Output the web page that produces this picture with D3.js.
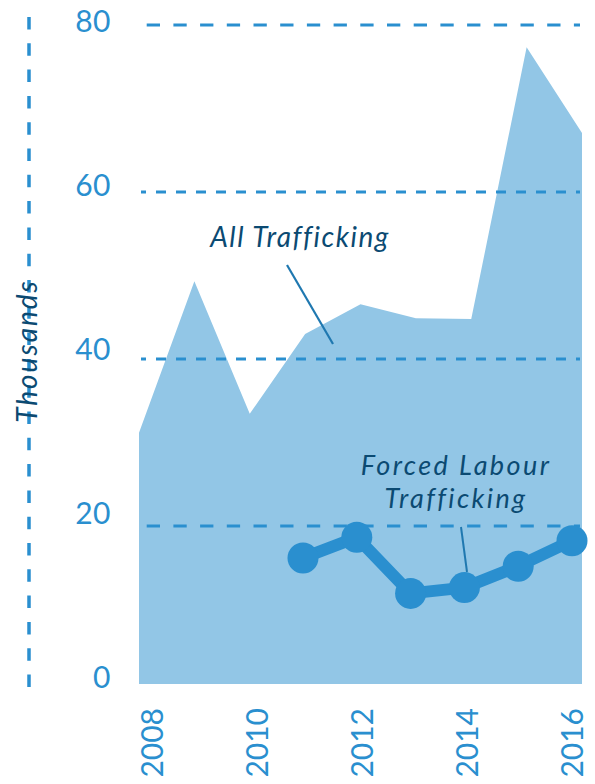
<!DOCTYPE html>
<html>
<head>
<meta charset="utf-8">
<script src="https://cdn.jsdelivr.net/npm/d3@7"></script>
<style>
  html, body { margin: 0; padding: 0; background: #ffffff; }
  svg { display: block; }
</style>
</head>
<body>
<svg id="chart" width="595" height="784"></svg>
<script>
// ---- data ----
const years = [2008, 2009, 2010, 2011, 2012, 2013, 2014, 2015, 2016];
const allTrafficking = [30.5, 48.9, 32.8, 42.5, 46.1, 44.4, 44.3, 77.3, 66.9];
const forcedYears = [2011, 2012, 2013, 2014, 2015, 2016];
const forcedLabour = [15.3, 17.8, 11.0, 11.7, 14.3, 17.4];
const yTicks = [0, 20, 40, 60, 80];
const xTickLabels = [2008, 2010, 2012, 2014, 2016];
const yAxisTitle = "Thousands";
const allLabel = "All Trafficking";
const forcedLabelLines = ["Forced Labour", "Trafficking"];

// ---- styles ----
const AREA = "#92c6e6";
const BLUE = "#2a8fcf";
const NAVY = "#0b4a72";
const FONT = "Lato, 'Open Sans', sans-serif";

const svg = d3.select("#chart");

// scales
const x = d3.scaleLinear().domain([2008, 2016]).range([139, 582]);
const xDot = d3.scaleLinear().domain([2011, 2016]).range([303, 572]);
const xLabel = d3.scaleLinear().domain([2008, 2016]).range([152, 572]);
const y = d3.scaleLinear().domain([0, 80]).range([684, 25]);
const yGrid = d3.scaleLinear().domain([0, 80]).range([693, 25]);
const yLabel = d3.scaleLinear().domain([0, 80]).range([677, 21]);

// area
const allData = years.map((yr, i) => ({ yr, v: allTrafficking[i] }));
const area = d3.area()
  .x(d => x(d.yr))
  .y0(y(0))
  .y1(d => y(d.v));
svg.append("path")
  .datum(allData)
  .attr("d", area)
  .attr("fill", AREA);

// left dashed vertical line
svg.append("line")
  .attr("x1", 29).attr("x2", 29)
  .attr("y1", 17).attr("y2", 688)
  .attr("stroke", BLUE)
  .attr("stroke-width", 3.5)
  .attr("stroke-dasharray", "12.5 13.8");

// gridlines
yTicks.filter(t => t > 0).forEach(t => {
  const wide = (t === 80 || t === 20);
  svg.append("line")
    .attr("x1", 141).attr("x2", 580)
    .attr("y1", yGrid(t)).attr("y2", yGrid(t))
    .attr("stroke", BLUE)
    .attr("stroke-width", 3)
    .attr("stroke-dasharray", wide ? "13.3 13.4" : "10 10")
    .attr("stroke-dashoffset", wide ? 21 : 5);
});

// y tick labels
svg.append("g").selectAll("text")
  .data(yTicks)
  .join("text")
  .attr("x", 111)
  .attr("y", d => yLabel(d))
  .attr("dy", "0.36em")
  .attr("text-anchor", "end")
  .attr("font-family", FONT)
  .attr("font-size", 30)
  .attr("letter-spacing", 0.5)
  .attr("fill", BLUE)
  .text(d => d);

// x tick labels (rotated)
svg.append("g").selectAll("text")
  .data(xTickLabels)
  .join("text")
  .attr("transform", d => `translate(${xLabel(d)},708) rotate(-90)`)
  .attr("dy", "0.36em")
  .attr("text-anchor", "end")
  .attr("font-family", FONT)
  .attr("font-size", 30)
  .attr("fill", BLUE)
  .text(d => d);

// y axis title
svg.append("text")
  .attr("transform", "translate(37,351) rotate(-90)")
  .attr("text-anchor", "middle")
  .attr("font-family", FONT)
  .attr("font-style", "italic")
  .attr("font-size", 28)
  .attr("letter-spacing", 2)
  .attr("fill", NAVY)
  .text(yAxisTitle);

// forced labour line + dots
const fData = forcedYears.map((yr, i) => ({ yr, v: forcedLabour[i] }));
svg.append("path")
  .datum(fData)
  .attr("d", d3.line().x(d => xDot(d.yr)).y(d => y(d.v)))
  .attr("fill", "none")
  .attr("stroke", BLUE)
  .attr("stroke-width", 12)
  .attr("stroke-linejoin", "round");
svg.append("g").selectAll("circle")
  .data(fData)
  .join("circle")
  .attr("cx", d => xDot(d.yr))
  .attr("cy", d => y(d.v))
  .attr("r", 15.5)
  .attr("fill", BLUE);

// annotations
svg.append("text")
  .attr("x", 300).attr("y", 247)
  .attr("text-anchor", "middle")
  .attr("font-family", FONT)
  .attr("font-style", "italic")
  .attr("font-size", 28)
  .attr("letter-spacing", 1.5)
  .attr("fill", NAVY)
  .text(allLabel);
svg.append("line")
  .attr("x1", 287).attr("y1", 265)
  .attr("x2", 333).attr("y2", 344)
  .attr("stroke", "#1f78b0").attr("stroke-width", 2.2);

const forcedText = svg.append("text")
  .attr("text-anchor", "middle")
  .attr("font-family", FONT)
  .attr("font-style", "italic")
  .attr("font-size", 27)
  .attr("letter-spacing", 2.4)
  .attr("fill", NAVY);
forcedText.selectAll("tspan")
  .data(forcedLabelLines)
  .join("tspan")
  .attr("x", 456)
  .attr("y", (d, i) => 475 + i * 33)
  .text(d => d);
svg.append("line")
  .attr("x1", 461).attr("y1", 527)
  .attr("x2", 467).attr("y2", 572)
  .attr("stroke", "#1f78b0").attr("stroke-width", 2);
</script>
</body>
</html>
